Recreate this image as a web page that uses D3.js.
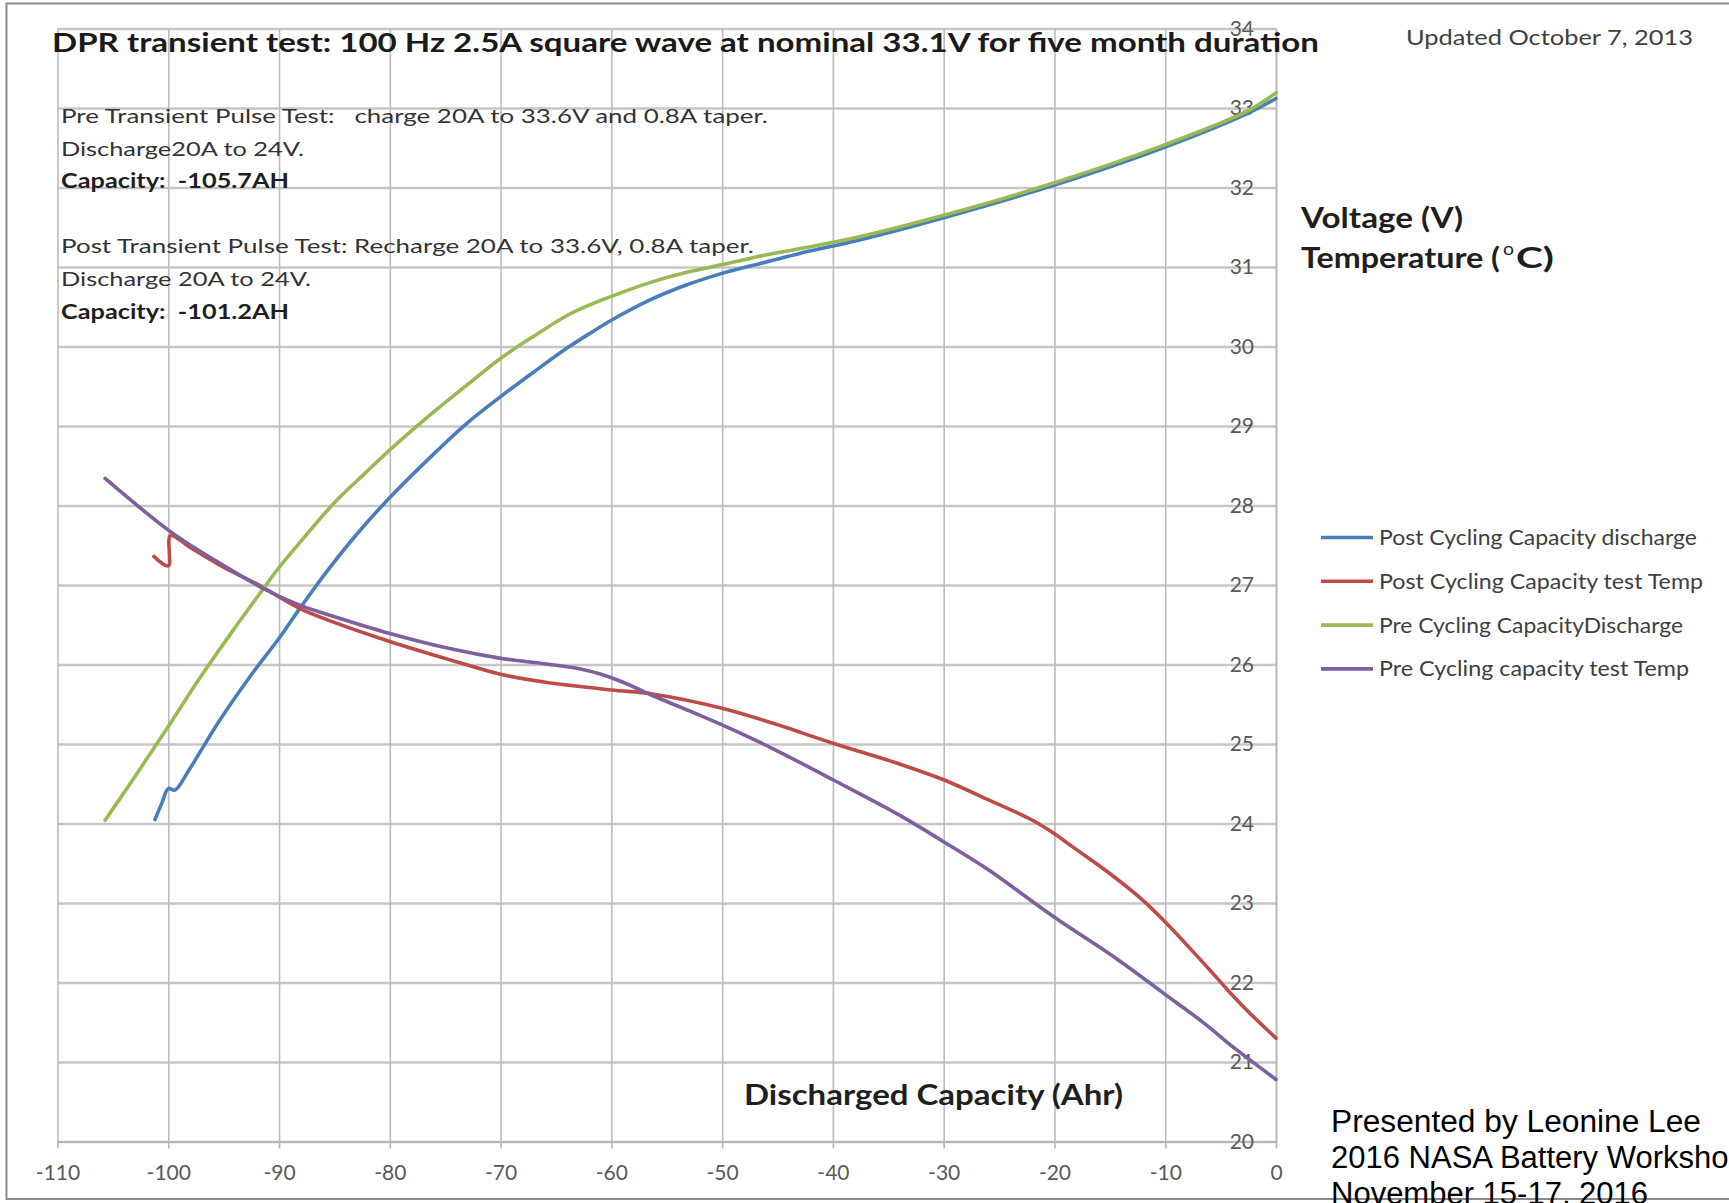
<!DOCTYPE html>
<html>
<head>
<meta charset="utf-8">
<script src="https://cdn.jsdelivr.net/npm/d3@7"></script>
<style>
  html, body { margin: 0; padding: 0; background: #ffffff; }
  svg { display: block; }
  svg text { white-space: pre; }
</style>
</head>
<body>
<svg id="chart" width="1729" height="1203"></svg>
<script>
// ---------------- DATA ----------------
const xTickValues = [-110, -100, -90, -80, -70, -60, -50, -40, -30, -20, -10, 0];
const yTickValues = [20, 21, 22, 23, 24, 25, 26, 27, 28, 29, 30, 31, 32, 33, 34];

const seriesNames = [
  "Post Cycling Capacity discharge",
  "Post Cycling Capacity test Temp",
  "Pre Cycling CapacityDischarge",
  "Pre Cycling capacity test Temp"
];
const seriesColors = ["#4a7ebb", "#be4b48", "#98b954", "#7d60a0"];

// [discharged capacity (Ahr), value (V or degC)]
const postDischarge = [
  [-101.2, 24.05], [-100.6, 24.25], [-100, 24.44], [-99.4, 24.42], [-98.1, 24.68],
  [-95.4, 25.29], [-92.4, 25.89], [-90, 26.33], [-88.2, 26.69], [-85.8, 27.15],
  [-83.1, 27.62], [-80, 28.1], [-76.1, 28.64], [-73, 29.04], [-70, 29.37],
  [-67, 29.68], [-64, 29.98], [-62, 30.16], [-60, 30.33], [-56.6, 30.58],
  [-53.3, 30.77], [-50, 30.92], [-46.1, 31.06], [-43, 31.17], [-37.6, 31.34],
  [-30, 31.62], [-20, 32.03], [-10, 32.51], [-2.6, 32.93], [0, 33.12]
];
const postTemp = [
  [-101.3, 27.36], [-100, 27.24], [-99.8, 27.62], [-98.1, 27.48], [-95.1, 27.23],
  [-92.1, 27.02], [-88.2, 26.71], [-85.2, 26.54], [-80, 26.29], [-74.6, 26.06],
  [-70.1, 25.88], [-66.1, 25.78], [-60, 25.68], [-56.3, 25.63], [-50, 25.45],
  [-45.4, 25.26], [-40, 25.01], [-33.8, 24.74], [-30, 24.55], [-26, 24.3],
  [-22.1, 24.05], [-20.1, 23.88], [-18.2, 23.69], [-15.1, 23.38], [-12.4, 23.08],
  [-10.2, 22.79], [-7.7, 22.42], [-5.8, 22.13], [-4.2, 21.88], [-2.7, 21.66], [0, 21.3]
];
const preDischarge = [
  [-105.7, 24.04], [-103.4, 24.51], [-100, 25.22], [-97.2, 25.82], [-94.2, 26.42],
  [-91.8, 26.88], [-90, 27.22], [-87.6, 27.62], [-84.9, 28.05], [-82.2, 28.41],
  [-80, 28.7], [-76.7, 29.1], [-73, 29.52], [-70.1, 29.84], [-67, 30.13],
  [-64, 30.39], [-62, 30.52], [-60, 30.63], [-56.6, 30.8], [-53.3, 30.93],
  [-50, 31.03], [-46.1, 31.15], [-43, 31.23], [-37.6, 31.38], [-30, 31.65],
  [-20, 32.06], [-10, 32.54], [-2.6, 32.96], [0, 33.19]
];
const preTemp = [
  [-105.7, 28.34], [-103.4, 28.07], [-100, 27.69], [-97.2, 27.43], [-94.2, 27.18],
  [-91.2, 26.94], [-88.2, 26.75], [-85.2, 26.61], [-80, 26.39], [-74.6, 26.2],
  [-70.1, 26.08], [-66.1, 26.01], [-63, 25.95], [-61, 25.88], [-59, 25.78],
  [-56.3, 25.61], [-53, 25.42], [-50, 25.24], [-45.4, 24.94], [-40, 24.55],
  [-33.8, 24.09], [-30, 23.77], [-26, 23.42], [-20.1, 22.83], [-14.3, 22.29],
  [-10.2, 21.87], [-6.5, 21.49], [-3.8, 21.18], [0, 20.78]
];
const seriesData = [postDischarge, postTemp, preDischarge, preTemp];

const titleText = "DPR transient test: 100 Hz 2.5A square wave at nominal 33.1V for five month duration";
const updatedText = "Updated October 7, 2013";
const noteLines = [
  { t: "Pre Transient Pulse Test:   charge 20A to 33.6V and 0.8A taper.", bold: false },
  { t: "Discharge20A to 24V.", bold: false },
  { t: "Capacity:  -105.7AH", bold: true },
  { t: "Post Transient Pulse Test: Recharge 20A to 33.6V, 0.8A taper.", bold: false },
  { t: "Discharge 20A to 24V.", bold: false },
  { t: "Capacity:  -101.2AH", bold: true }
];
const presenterLines = ["Presented by Leonine Lee", "2016 NASA Battery Workshop", "November 15-17, 2016"];

// ---------------- LAYOUT ----------------
const svg = d3.select("#chart");
const X0 = 57.5, X1 = 1276, Y0 = 1141.5, Y1 = 28.5;
const x = d3.scaleLinear().domain([-110, 0]).range([X0, X1]);
const y = d3.scaleLinear().domain([20, 34]).range([Y0, Y1]);
const FONT = "Lato, 'Open Sans', sans-serif";

// outer frame
svg.append("rect").attr("x", 6.5).attr("y", 3.5).attr("width", 1760).attr("height", 1195.5)
  .attr("fill", "none").attr("stroke", "#8a8a8a").attr("stroke-width", 2);

// horizontal grid
const gy = svg.append("g").attr("transform", `translate(${X0},0)`)
  .call(d3.axisLeft(y).tickValues(yTickValues).tickSize(-(X1 - X0)).tickFormat(""));
gy.select(".domain").remove();
gy.selectAll(".tick line").attr("stroke", "#c6c6c6").attr("stroke-width", 2.5);

// vertical grid
const gx = svg.append("g").attr("transform", `translate(0,${Y1})`)
  .call(d3.axisBottom(x).tickValues(xTickValues).tickSize(Y0 - Y1).tickFormat(""));
gx.select(".domain").remove();
gx.selectAll(".tick line").attr("stroke", "#bcbcbc").attr("stroke-width", 1.6);

// x axis
const xAxis = svg.append("g").attr("transform", `translate(0,${Y0})`)
  .call(d3.axisBottom(x).tickValues(xTickValues).tickSize(7).tickSizeOuter(0).tickFormat(d3.format("d")));
xAxis.select(".domain").attr("stroke", "#b5b5b5").attr("stroke-width", 2);
xAxis.selectAll(".tick line").attr("stroke", "#b5b5b5").attr("stroke-width", 1.6);
xAxis.selectAll(".tick text").attr("y", 30.5).attr("dy", "0.36em")
  .attr("font-family", FONT).attr("font-size", 21).attr("fill", "#595959")
  .text(d => d < 0 ? "-" + Math.abs(d) : String(d));

// y axis (labels at x = 0 line)
const yAxis = svg.append("g").attr("transform", `translate(${X1},0)`)
  .call(d3.axisLeft(y).tickValues(yTickValues).tickSize(0).tickPadding(22));
yAxis.select(".domain").attr("stroke", "#b5b5b5").attr("stroke-width", 1.6);
yAxis.selectAll(".tick text").attr("font-family", FONT).attr("font-size", 21).attr("fill", "#595959");

// ---------------- TEXTS ----------------
function txt(s, xx, yy, opts) {
  const t = svg.append("text").attr("x", xx).attr("y", yy).text(s)
    .attr("xml:space", "preserve")
    .attr("font-family", opts.family || FONT)
    .attr("font-size", opts.size)
    .attr("font-weight", opts.bold ? "bold" : "normal")
    .attr("fill", opts.fill || "#262626");
  if (opts.len) t.attr("textLength", opts.len).attr("lengthAdjust", "spacingAndGlyphs");
  return t;
}

// annotation block
const noteBase = [123, 156, 188, 253, 286, 319];
const noteLen = [707, 243, 228, 693, 250, 228];
noteLines.forEach((l, i) => {
  txt(l.t, 61, noteBase[i], { size: 20, bold: l.bold, len: noteLen[i], fill: l.bold ? "#1f1f1f" : "#333333" });
});

// ---------------- SERIES ----------------
const line = d3.line().x(d => x(d[0])).y(d => y(d[1])).curve(d3.curveCatmullRom.alpha(0.5));
seriesData.forEach((s, i) => {
  svg.append("path").datum(s).attr("d", line)
    .attr("fill", "none").attr("stroke", seriesColors[i])
    .attr("stroke-width", 3.6).attr("stroke-linejoin", "round").attr("stroke-linecap", "round");
});

// title and other labels (on top)
txt(titleText, 52, 51.5, { size: 26, bold: true, len: 1267, fill: "#1a1a1a" });
txt(updatedText, 1406, 45, { size: 22, len: 287, fill: "#404040" });

txt("Voltage (V)", 1301, 228, { size: 29, bold: true, len: 162, fill: "#1f1f1f" });
txt("Temperature (", 1301, 268, { size: 29, bold: true, len: 199, fill: "#1f1f1f" });
txt("o", 1503, 255, { size: 17, bold: false, len: 11, fill: "#1f1f1f" });
txt("C)", 1516, 268, { size: 29, bold: true, len: 38, fill: "#1f1f1f" });

txt("Discharged Capacity (Ahr)", 744, 1105, { size: 29, bold: true, len: 379, fill: "#1f1f1f" });

// legend
const legY0 = 537.5, legDy = 43.8;
const legLen = [318, 324, 304, 310];
seriesNames.forEach((n, i) => {
  const yy = legY0 + i * legDy;
  svg.append("line").attr("x1", 1321).attr("x2", 1373).attr("y1", yy).attr("y2", yy)
    .attr("stroke", seriesColors[i]).attr("stroke-width", 3.6);
  txt(n, 1379, yy + 7.5, { size: 21, len: legLen[i], fill: "#404040" });
});

// presenter footer (cut by the picture's edges as in the original)
const presBase = [1132, 1168, 1204];
presenterLines.forEach((s, i) => {
  const t = txt(s, 1331, presBase[i], { size: 31, family: "'Liberation Sans', Arial, sans-serif", fill: "#000000" });
  if (i === 0) t.attr("textLength", 370).attr("lengthAdjust", "spacingAndGlyphs");
});
</script>
</body>
</html>
